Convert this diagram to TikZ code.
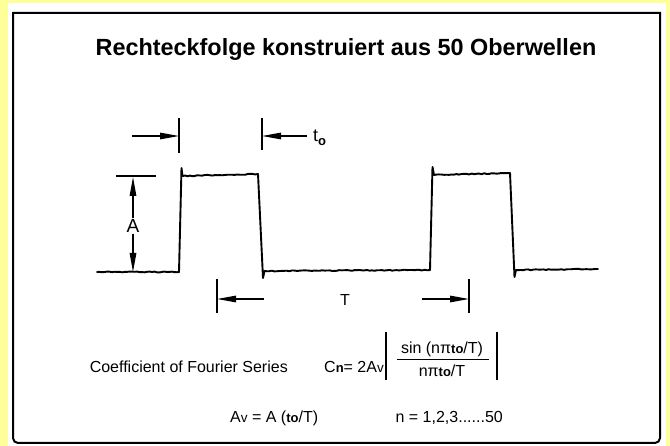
\documentclass[tikz,border=0pt]{standalone}
\usepackage{fontspec}
\setmainfont{Liberation Sans}
\usetikzlibrary{arrows.meta,decorations.pathmorphing}
\definecolor{bgy}{HTML}{FFFF99}
\newcommand\mysm[1]{{\fontsize{13.5}{13.5}\selectfont #1}}
\newcommand\mysmb[1]{{\bfseries\fontsize{13}{13}\selectfont #1}}
\begin{document}
\begin{tikzpicture}[x=1pt,y=-1pt,
  wave/.style={line width=1.9pt, line join=round, line cap=round},
  noisy/.style={wave, decorate, decoration={random steps,segment length=2.5pt,amplitude=0.45pt}},
  dimline/.style={line width=1.3pt},
  arr/.style={dimline,-{Triangle[length=19pt,width=6.5pt]}},
  ticky/.style={line width=1.3pt},
  txt/.style={font=\fontsize{16}{19}\selectfont, inner sep=0pt},
]
\pgfmathsetseed{7}
\useasboundingbox (0,0) rectangle (670,446);
\fill[bgy] (0,0) rectangle (670,446);
\fill[white] (8,3) rectangle (666,446);
\draw[line width=2pt] (13,13) -- (660,13) -- (660,300) [rounded corners=5pt] -- (660,443) -- (13,443) -- (13,300) [sharp corners] -- cycle;

% title
\node[font=\bfseries\fontsize{23.4}{28}\selectfont, inner sep=0pt] (title) at (346,50) {Rechteckfolge konstruiert aus 50 Oberwellen};

% waveform
\draw[noisy] (97,272) -- (179,272);
\draw[wave] (179,272) -- (181.5,168) -- (182.5,176);
\draw[noisy] (182.5,176) -- (258,174);
\draw[wave] (258,174) -- (263,278) -- (264.5,271);
\draw[noisy] (264.5,271) -- (430,270);
\draw[wave] (430,270) -- (432.5,167) -- (434,175);
\draw[noisy] (434,175) -- (510,173);
\draw[wave] (510,173) -- (514.5,277) -- (516,270);
\draw[noisy] (516,270) -- (598,269);

% t0 dimension
\coordinate (tlt) at (179,118); \coordinate (tlb) at (179,153);
\coordinate (trt) at (262,118); \coordinate (trb) at (262,150);
\coordinate (tla) at (132,136); \coordinate (tlh) at (179,136);
\coordinate (tra) at (307,136); \coordinate (trh) at (262,136);
\draw[ticky] (tlt) -- (tlb);
\draw[ticky] (trt) -- (trb);
\draw[arr] (tla) -- (tlh);
\draw[arr] (tra) -- (trh);
\node[anchor=base west, font=\fontsize{18}{18}\selectfont, inner sep=0pt] (tlab) at (313,142) {t\raisebox{-4pt}{\mysmb{o}}};

% A dimension
\coordinate (al) at (116,176); \coordinate (ar) at (156,176);
\draw[ticky] (al) -- (ar);
\node[font=\fontsize{19}{19}\selectfont, inner sep=1pt] (alab) at (133,226) {A};
\coordinate (atop) at (133,177); \coordinate (abot) at (133,272);
\draw[arr] (alab) -- (atop);
\draw[arr] (alab) -- (abot);

% T dimension
\coordinate (Tlt) at (217,279); \coordinate (Tlb) at (217,313);
\coordinate (Trt) at (469,279); \coordinate (Trb) at (469,313);
\draw[ticky] (Tlt) -- (Tlb);
\draw[ticky] (Trt) -- (Trb);
\coordinate (Tla) at (264,299); \coordinate (Tlh) at (217,299);
\coordinate (Tra) at (422,299); \coordinate (Trh) at (469,299);
\draw[arr] (Tla) -- (Tlh);
\draw[arr] (Tra) -- (Trh);
\node[font=\fontsize{16}{16}\selectfont, inner sep=0pt] (Tlab) at (345,300) {T};

% formula
\node[txt, anchor=base east] (coef) at (288,373) {Coefficient of Fourier Series};
\node[txt, anchor=base west] (cn) at (324,373) {C\mysmb{n}= 2A\mysm{v}};
\node[txt, anchor=base] (num) at (442,354) {sin (nπ\mysmb{to}/T)};
\node[txt, anchor=base] (den) at (442,377) {nπ\mysmb{to}/T};
\coordinate (fl) at (397,359); \coordinate (fr) at (489,359);
\draw[line width=0.9pt] (fl) -- (fr);
\coordinate (b1t) at (386,332); \coordinate (b1b) at (386,380);
\coordinate (b2t) at (497,332); \coordinate (b2b) at (497,380);
\draw[line width=1.4pt] (b1t) -- (b1b);
\draw[line width=1.4pt] (b2t) -- (b2b);
\node[txt, anchor=base west] (av) at (230,423) {A\mysm{v} = A (\mysmb{to}/T)};
\node[txt, anchor=base east] (nn) at (503,423) {n = 1,2,3......50};
\end{tikzpicture}
\end{document}
